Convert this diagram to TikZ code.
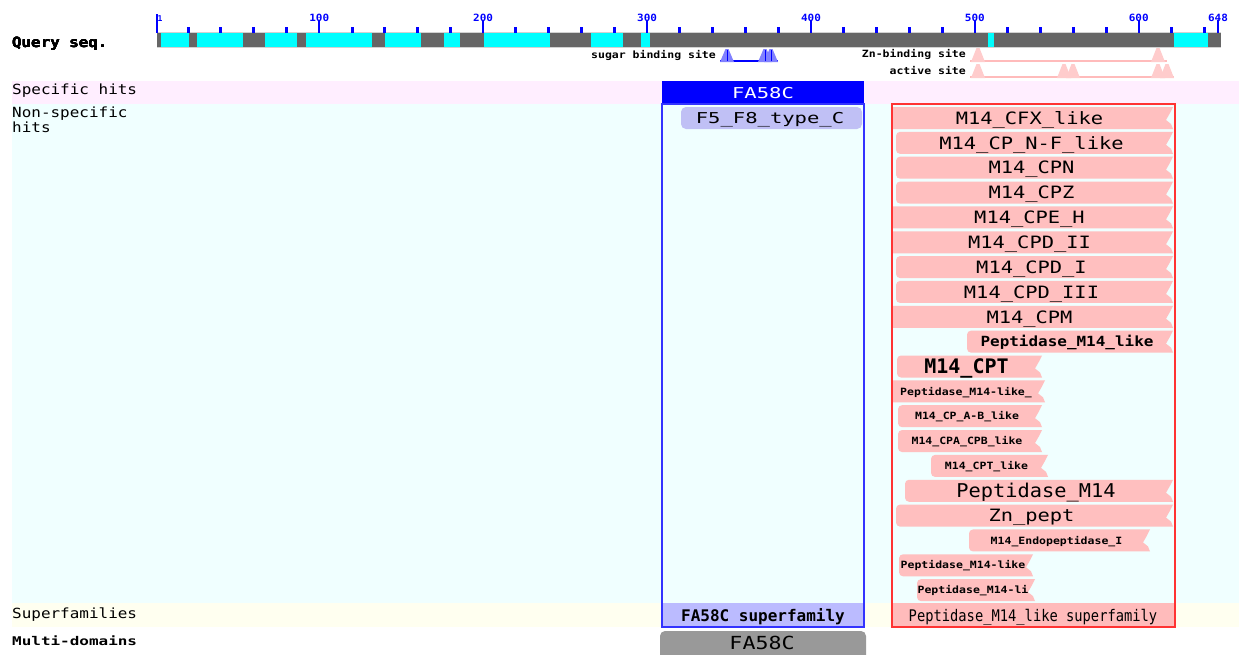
\documentclass[tikz,border=0pt]{standalone}
\usepackage{fontspec}
\usepackage{graphicx}
\setmainfont{DejaVu Sans Mono}
\definecolor{qcyan}{HTML}{00FFFF}
\definecolor{qgray}{HTML}{666666}
\definecolor{tickblue}{HTML}{0000FF}
\definecolor{specband}{HTML}{FFEEFF}
\definecolor{nsband}{HTML}{F0FFFF}
\definecolor{sfband}{HTML}{FFFFF0}
\definecolor{hitpink}{HTML}{FFBFBF}
\definecolor{sfpink}{HTML}{FFBBBB}
\definecolor{sflav}{HTML}{BBBBFF}
\definecolor{f5lav}{HTML}{C0C0F5}
\definecolor{mdgray}{HTML}{999999}
\definecolor{boxblue}{HTML}{3333FF}
\definecolor{boxred}{HTML}{FF3333}
\definecolor{sugarfill}{HTML}{8080FF}
\definecolor{sitepink}{HTML}{FFCCCC}
\definecolor{siteline}{HTML}{FFBBBB}
\tikzset{
  lbl/.style={inner sep=0pt, anchor=base},
  lblw/.style={inner sep=0pt, anchor=base west},
  lble/.style={inner sep=0pt, anchor=base east},
  hitfill/.style={fill=hitpink},
  minortick/.style={fill=tickblue},
  majortick/.style={draw=tickblue, line width=2pt},
  sugartri/.style={fill=sugarfill},
  pinktri/.style={fill=sitepink},
}
\newcommand\txt[4]{\fontsize{#1}{#1}\selectfont#3\scalebox{#2}[1]{#4}}
\newcommand\hitbar[9]{%
  \pgfmathsetmacro\yt{107+24.85*(#4-1)}%
  \pgfmathsetmacro\yb{\yt+22}%
  \pgfmathsetmacro\ym{\yt+11}%
  \pgfmathsetmacro\yl{\ym+0.3645*#6}%
  \pgfmathsetmacro\xc{(#2+#3)/2-3}%
  \pgfmathsetmacro\xr{#2+12}%
  \fill[hitfill] (#3,\yb) [#5] -- (#2,\yb) -- (#2,\yt) -- (\xr,\yt) [sharp corners] -- (#3,\yt) -- ({#3-3},{\yt+6}) -- ({#3-7},{\ym+2}) -- ({#3-2},{\yb-5}) -- cycle;
  \node[lbl] (#1) at (\xc,\yl) {\txt{#6}{#7}{#8}{#9}};
}
\newcommand\sitetri[4]{\fill[#4] ({#1-7},#3) -- ({#1-1.5},#2) -- ({#1+1.5},#2) -- ({#1+7},#3) -- cycle;}
\begin{document}
\begin{tikzpicture}[x=1pt,y=-1pt]
\useasboundingbox (0,0) rectangle (1239,654);
\clip (0,0) rectangle (1239,654);
\fill[white] (0,0) rectangle (1239,654);
% bands
\fill[specband] (12,81) rectangle (1239,104);
\fill[nsband] (12,104) rectangle (1239,603);
\fill[sfband] (12,603) rectangle (1239,627);
% query bar
\fill[qgray] (157,33) rectangle (1221,47);
\foreach \a/\b in {161/189,197/243,265/297,306/372,385/421,444/460,484/550,591/623,641/650,988/994,1174/1208}
  \fill[qcyan] (\a,33) rectangle (\b,47);
\draw[gray!35, line width=0.8pt] (157,32.5) -- (1221,32.5) (157,47.5) -- (1221,47.5);
% ruler
\foreach \k in {0,...,6}{
  \foreach \j in {20,40,60,80}{
    \pgfmathtruncatemacro\r{100*\k+\j}
    \ifnum\r<648
      \pgfmathsetmacro\xx{157+(\r-1)*1.639}
      \fill[minortick] ({\xx-1.5},27) rectangle ({\xx+1.5},33);
    \fi
  }
}
\foreach \r in {100,200,...,600}{
  \pgfmathsetmacro\xx{157+(\r-1)*1.639}
  \draw[majortick] (\xx,20) -- (\xx,33);
  \node[lbl, text=tickblue] (t\r) at (\xx,21) {\txt{10}{1.1}{\bfseries}{\r}};
}
\draw[majortick] (157,14) -- (157,33);
\node[lbl, text=tickblue] (t1) at (160,21) {\txt{8}{1}{\bfseries}{1}};
\draw[majortick] (1218,20) -- (1218,33);
\node[lbl, text=tickblue] (tend) at (1218,21) {\txt{10}{1.1}{\bfseries}{648}};
% sites
\node[lble] (sugar) at (716,58) {\txt{10}{1.15}{\bfseries}{sugar binding site}};
\draw[tickblue, line width=1.2pt] (720,61) -- (778,61);
\sitetri{727}{49}{62}{sugartri}
\sitetri{765}{49}{62}{sugartri}
\sitetri{771}{49}{62}{sugartri}
\foreach \x in {727,765,771} \draw[tickblue, line width=1pt] (\x,50) -- (\x,61);
\node[lble] (znb) at (966,57) {\txt{10}{1.15}{\bfseries}{Zn-binding site}};
\draw[siteline, line width=2pt] (970,61) -- (1167,61);
\sitetri{978}{48}{62}{pinktri}
\sitetri{1158}{48}{62}{pinktri}
\node[lble] (act) at (966,74) {\txt{10}{1.15}{\bfseries}{active site}};
\draw[siteline, line width=2pt] (970,77) -- (1174,77);
\foreach \x in {978,1064,1073,1158,1167} \sitetri{\x}{64}{78}{pinktri}
% left labels
\node[lblw] (q) at (12,47) {\txt{14}{1.13}{\bfseries}{Query seq.}};
\node[lblw] (sp) at (12,94) {\txt{14}{1.14}{}{Specific hits}};
\node[lblw] (ns1) at (12,117) {\txt{14}{1.14}{}{Non-specific}};
\node[lblw] (ns2) at (12,132) {\txt{14}{1.14}{}{hits}};
\node[lblw] (sf) at (12,618) {\txt{14}{1.14}{}{Superfamilies}};
\node[lblw] (md) at (12,645) {\txt{12}{1.33}{\bfseries}{Multi-domains}};
% FA58C column
\fill[tickblue] (662,81) rectangle (864,104);
\node[lbl, text=white] (fa) at (763,98) {\txt{15}{1.37}{}{FA58C}};
\fill[f5lav, rounded corners=5pt] (681,107) rectangle (862,129);
\node[lbl] (f5) at (770,123) {\txt{15}{1.37}{}{F5\_F8\_type\_C}};
\fill[sflav] (662,603) rectangle (864,627);
\node[lbl] (fasf) at (763,621) {\txt{16}{1}{\bfseries}{FA58C superfamily}};
\draw[boxblue, line width=1.5pt] (662,104) rectangle (864,627);
\fill[mdgray, rounded corners=5pt] (660,631) rectangle (866,664);
\node[lbl] (famd) at (762,649) {\txt{18}{1.2}{}{FA58C}};
% peptidase column
\hitbar{h1}{892}{1173}{1}{sharp corners}{17}{1.2}{}{M14\_CFX\_like}
\hitbar{h2}{896}{1173}{2}{rounded corners=4pt}{17}{1.2}{}{M14\_CP\_N-F\_like}
\hitbar{h3}{896}{1173}{3}{rounded corners=4pt}{17}{1.2}{}{M14\_CPN}
\hitbar{h4}{896}{1173}{4}{rounded corners=4pt}{17}{1.2}{}{M14\_CPZ}
\hitbar{h5}{892}{1173}{5}{sharp corners}{17}{1.2}{}{M14\_CPE\_H}
\hitbar{h6}{892}{1173}{6}{sharp corners}{17}{1.2}{}{M14\_CPD\_II}
\hitbar{h7}{896}{1173}{7}{rounded corners=4pt}{17}{1.2}{}{M14\_CPD\_I}
\hitbar{h8}{896}{1173}{8}{rounded corners=4pt}{17}{1.2}{}{M14\_CPD\_III}
\hitbar{h9}{892}{1173}{9}{sharp corners}{17}{1.2}{}{M14\_CPM}
\hitbar{h10}{967}{1173}{10}{rounded corners=4pt}{14}{1.14}{\bfseries}{Peptidase\_M14\_like}
\hitbar{h11}{897}{1042}{11}{rounded corners=4pt}{20}{1.0}{\bfseries}{M14\_CPT}
\hitbar{h12}{893}{1045}{12}{sharp corners}{10}{1.15}{\bfseries}{Peptidase\_M14-like\_}
\hitbar{h13}{898}{1042}{13}{rounded corners=4pt}{10}{1.15}{\bfseries}{M14\_CP\_A-B\_like}
\hitbar{h14}{898}{1042}{14}{rounded corners=4pt}{10}{1.15}{\bfseries}{M14\_CPA\_CPB\_like}
\hitbar{h15}{931}{1048}{15}{rounded corners=4pt}{10}{1.15}{\bfseries}{M14\_CPT\_like}
\hitbar{h16}{905}{1173}{16}{rounded corners=4pt}{19}{1.07}{}{Peptidase\_M14}
\hitbar{h17}{896}{1173}{17}{rounded corners=4pt}{17}{1.2}{}{Zn\_pept}
\hitbar{h18}{969}{1150}{18}{rounded corners=4pt}{10}{1.15}{\bfseries}{M14\_Endopeptidase\_I}
\hitbar{h19}{899}{1033}{19}{rounded corners=4pt}{10}{1.15}{\bfseries}{Peptidase\_M14-like}
\hitbar{h20}{917}{1035}{20}{rounded corners=4pt}{10}{1.15}{\bfseries}{Peptidase\_M14-li}
\fill[sfpink] (892,603) rectangle (1175,627);
\node[lbl] (pepsf) at (1033,621) {\txt{16}{0.86}{}{Peptidase\_M14\_like superfamily}};
\draw[boxred, line width=1.5pt] (892,104) rectangle (1175,627);
\end{tikzpicture}
\end{document}
